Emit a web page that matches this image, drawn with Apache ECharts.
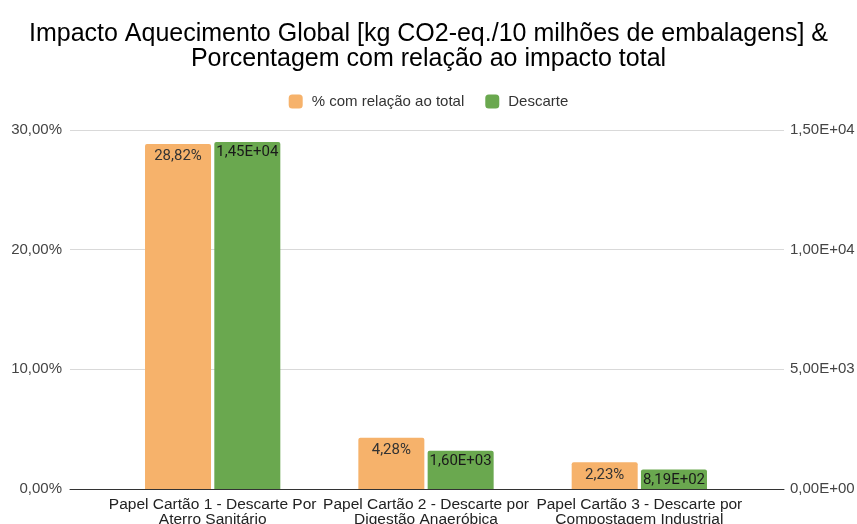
<!DOCTYPE html>
<html>
<head>
<meta charset="utf-8">
<script src="https://cdn.jsdelivr.net/npm/echarts@6/dist/echarts.min.js"></script>
<style>
  html, body { margin: 0; padding: 0; background: #fff; }
  #main { width: 857px; height: 524px; }
</style>
</head>
<body>
<div id="main"></div>
<script>
var categories = [
  'Papel Cartão 1 - Descarte Por\nAterro Sanitário',
  'Papel Cartão 2 - Descarte por\nDigestão Anaeróbica',
  'Papel Cartão 3 - Descarte por\nCompostagem Industrial'
];
var percentTotal = [28.82, 4.28, 2.23];
var descarte = [14500, 1600, 819];
var leftTicks = [0, 10, 20, 30];
var rightTicks = [0, 5000, 10000, 15000];

function fmtPct(v) {
  return v.toFixed(2).replace('.', ',') + '%';
}
function fmtSci(v) {
  var s = Number(v).toExponential(2);
  var parts = s.split('e');
  var exp = parseInt(parts[1], 10);
  var sign = exp < 0 ? '-' : '+';
  var e = Math.abs(exp);
  return parts[0].replace('.', ',') + 'E' + sign + (e < 10 ? '0' + e : e);
}

var chart = echarts.init(document.getElementById('main'), null, { renderer: 'canvas' });

var font = 'Liberation Sans, Arial, sans-serif';

var option = {
  animation: false,
  backgroundColor: '#fff',
  title: {
    text: 'Impacto Aquecimento Global [kg CO2-eq./10 milhões de embalagens] &\nPorcentagem com relação ao impacto total',
    left: 'center',
    top: 17,
    textStyle: { fontFamily: font, fontSize: 25, fontWeight: 'normal', color: '#000', lineHeight: 25 }
  },
  legend: {
    top: 89,
    left: 'center',
    itemWidth: 14,
    itemHeight: 14,
    itemGap: 21,
    icon: 'roundRect',
    textStyle: { fontFamily: font, fontSize: 15, color: '#333', padding: [0, 0, 0, 4] },
    data: ['% com relação ao total', 'Descarte']
  },
  grid: [
    { left: 70, right: 73, top: 130, bottom: 35, outerBoundsMode: 'none' },
    { left: 106, right: 111, top: 130, bottom: 35, outerBoundsMode: 'none' }
  ],
  xAxis: [
    {
      type: 'category', gridIndex: 0, data: categories,
      axisLine: { lineStyle: { color: '#333' } },
      axisTick: { show: false },
      axisLabel: { show: false }
    },
    {
      type: 'category', gridIndex: 1, data: categories,
      axisLine: { show: false },
      axisTick: { show: false },
      axisLabel: { interval: 0, margin: 8, fontFamily: font, fontSize: 15.5, color: '#222', lineHeight: 15 }
    }
  ],
  yAxis: [
    {
      type: 'value', gridIndex: 0, position: 'left', min: leftTicks[0], max: leftTicks[leftTicks.length - 1], interval: 10,
      axisLine: { show: false }, axisTick: { show: false },
      splitLine: { lineStyle: { color: '#d9d9d9' } },
      axisLabel: { margin: 8, fontFamily: font, fontSize: 15, color: '#444', formatter: fmtPct }
    },
    {
      type: 'value', gridIndex: 0, position: 'right', min: rightTicks[0], max: rightTicks[rightTicks.length - 1], interval: 5000,
      axisLine: { show: false }, axisTick: { show: false },
      splitLine: { show: false },
      axisLabel: { margin: 6, fontFamily: font, fontSize: 15, color: '#444', formatter: fmtSci }
    },
    {
      type: 'value', gridIndex: 1, min: 0, max: 30, show: false
    },
    {
      type: 'value', gridIndex: 1, min: 0, max: 15000, show: false
    }
  ],
  series: [
    {
      name: '% com relação ao total',
      type: 'bar',
      xAxisIndex: 1, yAxisIndex: 2,
      data: percentTotal,
      barWidth: 66,
      barGap: '5%',
      itemStyle: { color: '#f6b26b', borderRadius: [2, 2, 0, 0] },
      label: {
        show: true, position: 'insideTop', distance: 5,
        fontFamily: 'Roboto, sans-serif', fontSize: 15, color: '#333',
        formatter: function (p) { return fmtPct(p.value); }
      }
    },
    {
      name: 'Descarte',
      type: 'bar',
      xAxisIndex: 1, yAxisIndex: 3,
      data: descarte,
      barWidth: 66,
      itemStyle: { color: '#6aa84f', borderRadius: [2, 2, 0, 0] },
      label: {
        show: true, position: 'insideTop', distance: 3,
        fontFamily: 'Roboto, sans-serif', fontSize: 15, color: '#1a1a1a',
        formatter: function (p) { return fmtSci(p.value); }
      }
    }
  ]
};

chart.setOption(option);
</script>
</body>
</html>
